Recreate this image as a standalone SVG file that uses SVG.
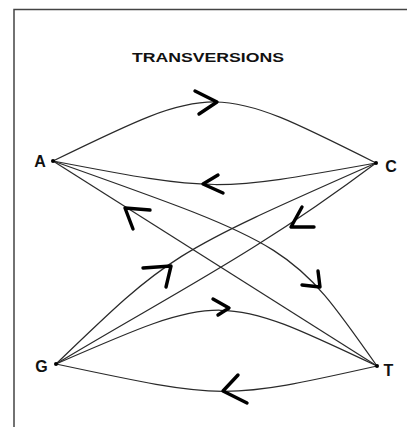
<svg xmlns="http://www.w3.org/2000/svg" width="407" height="427" viewBox="0 0 407 427">
<style>
.edge{fill:none;stroke:#2a2a2a;stroke-width:1.25}
.head{fill:none;stroke:#000;stroke-width:3.4;stroke-linecap:round;stroke-linejoin:round}
.lbl{font-family:"Liberation Sans",Arial,sans-serif;font-weight:bold;font-size:16px;fill:#111;text-anchor:middle}
.title{font-family:"Liberation Sans",Arial,sans-serif;font-weight:bold;font-size:13.5px;fill:#111}
.dot{fill:#000}
</style>
<rect x="0" y="0" width="407" height="427" fill="#fff"/>
<path d="M14,427 V9.5 H407" fill="none" stroke="#444" stroke-width="1.5"/>
<text class="title" x="132" y="62" textLength="152" lengthAdjust="spacingAndGlyphs">TRANSVERSIONS</text>
<g id="connectors">
  <g id="A-C">
    <path class="edge" d="M53,161 C215,82 215,82 376,163"/>
    <polyline class="head" points="195,91 217,102 199,114"/>
  </g>
  <g id="C-A">
    <path class="edge" d="M376,163 C215,192 215,192 53,161"/>
    <polyline class="head" points="218,175 203,184 223,193"/>
  </g>
  <g id="A-T">
    <path class="edge" d="M53,161 C293,246 293,246 377,366"/>
    <polyline class="head" points="318,271 320,287 302,285"/>
  </g>
  <g id="T-A">
    <path class="edge" d="M377,366 L53,161"/>
    <polyline class="head" points="150,210 125,208 133,229"/>
  </g>
  <g id="C-G">
    <path class="edge" d="M376,163 C256,253 176,292 56,364"/>
    <polyline class="head" points="302,207 291,227 314,227"/>
  </g>
  <g id="G-C">
    <path class="edge" d="M56,364 C170,254 170,254 376,163"/>
    <polyline class="head" points="143,268 171,266 166,287"/>
  </g>
  <g id="G-T">
    <path class="edge" d="M56,364 C221,292 221,292 377,366"/>
    <polyline class="head" points="213,299 229,308 218,315"/>
  </g>
  <g id="T-G">
    <path class="edge" d="M377,366 C225,400 225,400 56,364"/>
    <polyline class="head" points="238,375 223,391 247,403"/>
  </g>
</g>
<g id="node-A">
  <circle class="dot" cx="53" cy="161" r="2"/>
  <text class="lbl" x="40" y="167">A</text>
</g>
<g id="node-C">
  <circle class="dot" cx="376" cy="163" r="2"/>
  <text class="lbl" x="391" y="171.5">C</text>
</g>
<g id="node-G">
  <circle class="dot" cx="56" cy="364" r="2"/>
  <text class="lbl" x="41.5" y="371.5">G</text>
</g>
<g id="node-T">
  <circle class="dot" cx="377" cy="366" r="2"/>
  <text class="lbl" x="388.5" y="376">T</text>
</g>
</svg>
